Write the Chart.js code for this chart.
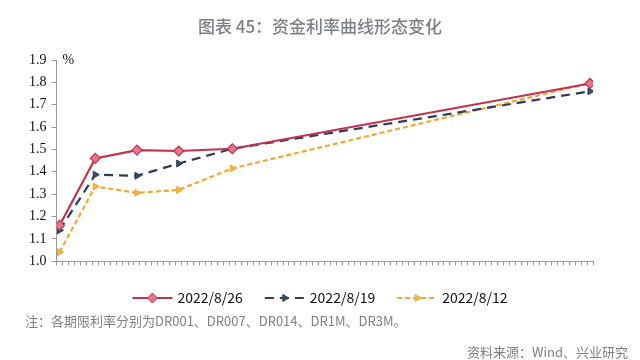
<!DOCTYPE html>
<html>
<head>
<meta charset="utf-8">
<script src="https://cdn.jsdelivr.net/npm/chart.js@4"></script>
<style>
  html, body { margin: 0; padding: 0; background: #fff; }
  #wrap { width: 640px; height: 360px; }
</style>
</head>
<body>
<div id="wrap"><canvas id="curveChart" width="640" height="360"></canvas></div>
<script>
// 期限（天）
const tenors = [1, 7, 14, 21, 30, 90];
// 各日期的资金利率曲线 (%)
const rates0826 = [1.16, 1.46, 1.497, 1.493, 1.503, 1.795];
const rates0819 = [1.138, 1.387, 1.382, 1.437, 1.503, 1.76];
const rates0812 = [1.04, 1.334, 1.306, 1.319, 1.415, 1.797];
const seriesNames = ['2022/8/26', '2022/8/19', '2022/8/12'];
const yTicks = [1.0, 1.1, 1.2, 1.3, 1.4, 1.5, 1.6, 1.7, 1.8, 1.9];

const toPoints = vals => tenors.map((t, i) => ({ x: t, y: vals[i] }));

// 标题、图例、注释等文字
const textPlugin = {
  id: 'texts',
  afterDraw(chart) {
    const c = chart.ctx;
    const area = chart.chartArea;
    c.save();
    c.fillStyle = '#7b7f86';
    c.font = '500 17px "Noto Sans CJK SC"';
    c.textAlign = 'center';
    c.textBaseline = 'middle';
    c.fillText('图表 45：资金利率曲线形态变化', 320, 27);

    c.fillStyle = '#111';
    c.font = '14px "Liberation Serif"';
    c.textAlign = 'left';
    c.fillText('%', area.left + 6, area.top);

    // 图例
    c.font = '14px "Noto Sans CJK SC"';
    const ds = chart.data.datasets;
    const sample = 40, gap = 5, spacing = 22;
    const widths = ds.map(d => c.measureText(d.label).width);
    let total = widths.reduce((a, b) => a + b, 0) + ds.length * (sample + gap) + spacing * (ds.length - 1);
    let x = 320 - total / 2;
    const y = 298;
    ds.forEach((d, i) => {
      c.strokeStyle = d.borderColor;
      c.lineWidth = 2;
      c.setLineDash(d.borderDash || []);
      c.beginPath();
      c.moveTo(x, y);
      c.lineTo(x + sample, y);
      c.stroke();
      c.setLineDash([]);
      c.fillStyle = d.pointBackgroundColor;
      c.strokeStyle = d.pointBorderColor;
      c.lineWidth = 1;
      Chart.helpers.drawPoint(c, {
        pointStyle: d.pointStyle, radius: d.pointRadius, rotation: d.pointRotation || 0, borderWidth: 1
      }, x + sample / 2, y);
      c.fillStyle = '#111';
      c.textAlign = 'left';
      c.fillText(d.label, x + sample + gap, y);
      x += sample + gap + widths[i] + spacing;
    });

    c.fillStyle = '#808080';
    c.font = '13px "Noto Sans CJK SC"';
    c.textAlign = 'left';
    c.fillText('注：各期限利率分别为DR001、DR007、DR014、DR1M、DR3M。', 25, 321);
    c.textAlign = 'right';
    c.fillText('资料来源：Wind、兴业研究', 628, 352);
    c.restore();
  }
};

const ctx = document.getElementById('curveChart').getContext('2d');
const curveChart = new Chart(ctx, {
  type: 'line',
  data: {
    datasets: [
      {
        label: seriesNames[0],
        data: toPoints(rates0826),
        borderColor: '#c0344c',
        borderWidth: 2.2,
        pointStyle: 'rectRot',
        pointRadius: 5,
        pointBackgroundColor: '#e8758a',
        pointBorderColor: '#c0344c',
        pointBorderWidth: 1.2,
        tension: 0
      },
      {
        label: seriesNames[1],
        data: toPoints(rates0819),
        borderColor: '#2e3c58',
        borderWidth: 2.2,
        borderDash: [9, 6],
        pointStyle: 'triangle',
        pointRotation: 90,
        pointRadius: 4,
        pointBackgroundColor: '#3b4c6e',
        pointBorderColor: '#2e3c58',
        pointBorderWidth: 1,
        tension: 0
      },
      {
        label: seriesNames[2],
        data: toPoints(rates0812),
        borderColor: '#f0a832',
        borderWidth: 2.2,
        borderDash: [5, 3],
        pointStyle: 'triangle',
        pointRotation: 90,
        pointRadius: 4,
        pointBackgroundColor: '#f5b54a',
        pointBorderColor: '#f0a832',
        pointBorderWidth: 1,
        tension: 0
      }
    ]
  },
  options: {
    responsive: false,
    animation: false,
    layout: { padding: { top: 60, left: 24, right: 47, bottom: 72 } },
    plugins: {
      legend: { display: false },
      title: { display: false },
      tooltip: { enabled: false }
    },
    scales: {
      x: {
        type: 'linear',
        min: 0.5,
        max: 90.5,
        border: { display: true, color: '#9a9a9a', width: 1 },
        grid: { display: true, drawOnChartArea: false, drawTicks: true, tickLength: 4, color: '#9a9a9a' },
        ticks: {
          stepSize: 1,
          autoSkip: false,
          maxRotation: 0,
          maxTicksLimit: 200,
          padding: 3,
          color: '#111',
          font: { family: '"Liberation Serif"', size: 14 },
          callback: v => (tenors.includes(v) ? String(v) : '')
        }
      },
      y: {
        min: yTicks[0],
        max: yTicks[yTicks.length - 1],
        border: { display: true, color: '#9a9a9a', width: 1 },
        grid: { display: true, drawOnChartArea: false, drawTicks: true, tickLength: 5, color: '#9a9a9a' },
        afterBuildTicks: axis => { axis.ticks = yTicks.map(v => ({ value: v })); },
        ticks: {
          padding: 5,
          color: '#111',
          font: { family: '"Liberation Serif"', size: 14 },
          callback: v => v.toFixed(1)
        }
      }
    }
  },
  plugins: [textPlugin]
});
</script>
</body>
</html>
